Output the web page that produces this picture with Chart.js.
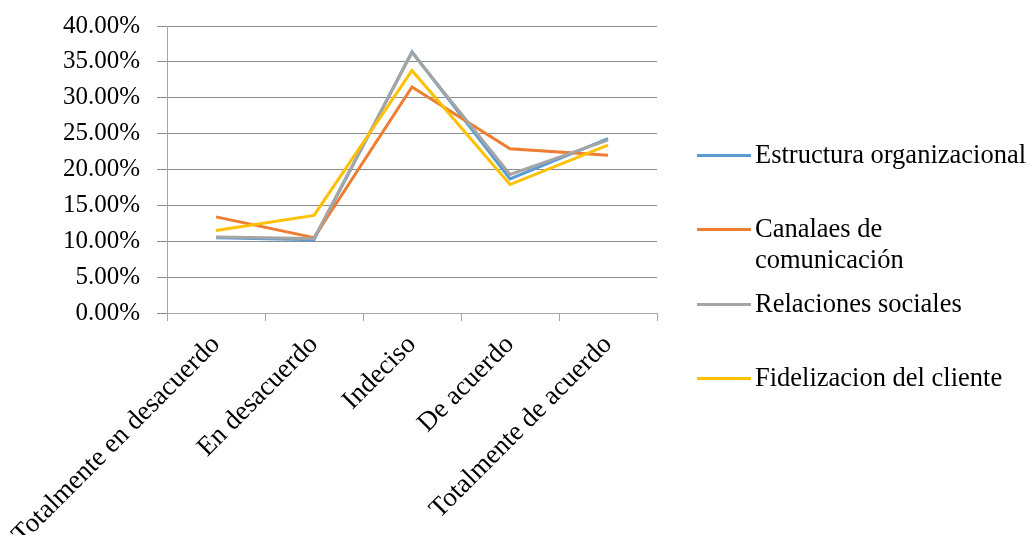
<!DOCTYPE html>
<html lang="es">
<head>
<meta charset="UTF-8">
<title>Gráfico de líneas</title>
<script src="https://cdn.jsdelivr.net/npm/chart.js"></script>
<style>
  body { margin: 0; background: #fff; font-family: "Liberation Serif", "Times New Roman", serif; }
  #wrap { position: relative; width: 1031px; height: 535px; }
  #legend { position: absolute; left: 697px; top: 139px; width: 334px; }
  .item { height: 74.4px; display: flex; align-items: flex-start; font-size: 26.5px; line-height: 31px; color: #000; }
  .sw { width: 54px; height: 3px; margin-top: 15px; margin-right: 4px; flex: none; }
  .txt { white-space: pre-line; }
</style>
</head>
<body>
<div id="wrap">
  <canvas id="chart" width="1031" height="535"></canvas>
  <div id="legend"></div>
</div>
<script>
// datos (porcentajes)
const categories = ["Totalmente en desacuerdo", "En desacuerdo", "Indeciso", "De acuerdo", "Totalmente de acuerdo"];
const seriesNames = ["Estructura organizacional", "Canalaes de\ncomunicación", "Relaciones sociales", "Fidelizacion del cliente"];
const seriesColors = ["#5B9BD5", "#ED7D31", "#A5A5A5", "#FFC000"];
const estructura = [10.5, 10.2, 36.4, 18.7, 24.3];
const canales = [13.4, 10.5, 31.5, 22.9, 22.0];
const relaciones = [10.6, 10.4, 36.3, 19.3, 24.1];
const fidelizacion = [11.5, 13.6, 33.8, 17.9, 23.4];
const yTicks = [0, 5, 10, 15, 20, 25, 30, 35, 40];

const seriesData = [estructura, canales, relaciones, fidelizacion];
const family = "'Liberation Serif', 'Times New Roman', serif";

const datasets = seriesData.map((d, i) => ({
  label: seriesNames[i],
  data: d,
  borderColor: seriesColors[i],
  backgroundColor: seriesColors[i],
  borderWidth: 3,
  pointRadius: 0,
  tension: 0,
  fill: false,
  order: seriesData.length - i
}));

// sin relleno automático para las etiquetas: el área del gráfico la fija layout.padding
function noPad(s) {
  s.paddingLeft = 0; s.paddingRight = 0; s.paddingTop = 0; s.paddingBottom = 0;
}

new Chart(document.getElementById("chart"), {
  type: "line",
  data: { labels: categories, datasets: datasets },
  options: {
    responsive: false,
    animation: false,
    layout: { padding: { top: 26, right: 374, left: 0, bottom: 0 } },
    plugins: { legend: { display: false }, tooltip: { enabled: false } },
    scales: {
      x: {
        offset: true,
        grid: { offset: true, drawOnChartArea: false, drawTicks: true, tickLength: 8, color: "#a6a6a6" },
        border: { color: "#a6a6a6" },
        ticks: { font: { family: family, size: 27 }, color: "#000", minRotation: 45, maxRotation: 45, padding: 8, autoSkip: false },
        afterFit: s => { s.height = 222; noPad(s); }
      },
      y: {
        min: 0,
        max: 40,
        afterBuildTicks: s => { s.ticks = yTicks.map(v => ({ value: v })); },
        grid: { color: "#8c8c8c", tickLength: 10 },
        border: { color: "#a6a6a6" },
        ticks: { font: { family: family, size: 25 }, color: "#000", padding: 17, callback: v => v.toFixed(2) + "%" },
        afterFit: s => { s.width = 167; noPad(s); }
      }
    }
  }
});

const legend = document.getElementById("legend");
seriesNames.forEach((name, i) => {
  const item = document.createElement("div");
  item.className = "item";
  item.innerHTML = '<span class="sw" style="background:' + seriesColors[i] + '"></span><span class="txt"></span>';
  item.querySelector(".txt").textContent = name;
  legend.appendChild(item);
});
</script>
</body>
</html>
